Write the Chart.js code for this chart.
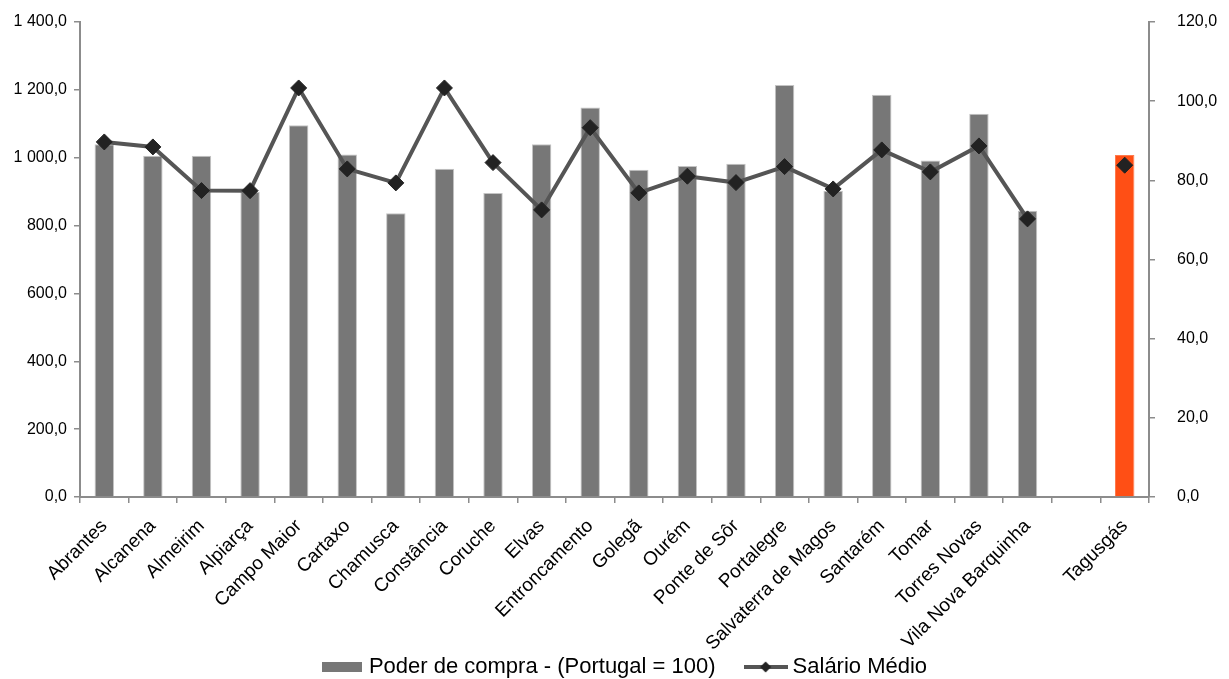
<!DOCTYPE html>
<html lang="pt">
<head>
<meta charset="utf-8">
<title>Poder de compra e Salário Médio</title>
<script src="https://cdn.jsdelivr.net/npm/chart.js@4/dist/chart.umd.min.js"></script>
<style>
  html, body { margin: 0; padding: 0; background: #ffffff; }
  #wrap { width: 1229px; height: 679px; }
</style>
</head>
<body>
<div id="wrap"><canvas id="chart" width="1229" height="679"></canvas></div>
<script>
// Municípios (a posição vazia separa a Tagusgás do resto)
const categories = [
  'Abrantes', 'Alcanena', 'Almeirim', 'Alpiarça', 'Campo Maior', 'Cartaxo',
  'Chamusca', 'Constância', 'Coruche', 'Elvas', 'Entroncamento', 'Golegã',
  'Ourém', 'Ponte de Sôr', 'Portalegre', 'Salvaterra de Magos', 'Santarém',
  'Tomar', 'Torres Novas', 'Vila Nova Barquinha', '', 'Tagusgás'
];

// Poder de compra (Portugal = 100) — eixo da direita
const poderCompra = [
  89.1, 86.2, 86.2, 77.1, 93.9, 86.5, 71.7, 82.9, 76.8, 89.1, 98.4,
  82.7, 83.6, 84.2, 104.1, 77.4, 101.6, 85.0, 96.8, 72.3, null, 86.4
];

// Salário médio — eixo da esquerda
const salarioMedio = [
  1046.5, 1031.8, 903.1, 903.0, 1205.6, 967.0, 925.8, 1205.6, 985.6, 846.2, 1088.6,
  896.3, 945.5, 926.7, 973.8, 908.0, 1023.0, 958.2, 1034.8, 819.7, null, 977.9
];

// Marcas dos eixos
const leftTicks = [0, 200, 400, 600, 800, 1000, 1200, 1400];
const rightTicks = [0, 20, 40, 60, 80, 100, 120];

const seriesNames = ['Poder de compra - (Portugal = 100)', 'Salário Médio'];
const highlighted = 'Tagusgás';

const BAR_GREY = '#777777';
const BAR_ORANGE = '#ff4f15';
const LINE_GREY = '#555555';
const MARKER = '#222222';
const AXIS = '#8c8c8c';
const FONT = '"Liberation Sans", Arial, Helvetica, sans-serif';

// Formato português: espaço como separador de milhares e vírgula decimal
function fmt(v) {
  const [int, dec] = Number(v).toFixed(1).split('.');
  return int.replace(/\B(?=(\d{3})+(?!\d))/g, ' ') + ',' + dec;
}

const barFill = categories.map(c => c === highlighted ? BAR_ORANGE : BAR_GREY);
const barEdge = categories.map(c => c === highlighted ? '#ff7a4d' : '#c4c4c4');

// Símbolos da legenda
function legendBar() {
  const c = document.createElement('canvas');
  c.width = 40; c.height = 10;
  const g = c.getContext('2d');
  g.fillStyle = BAR_GREY;
  g.fillRect(0, 0, 40, 10);
  return c;
}
function legendLine() {
  const c = document.createElement('canvas');
  c.width = 44; c.height = 12;
  const g = c.getContext('2d');
  g.strokeStyle = LINE_GREY;
  g.lineWidth = 4;
  g.beginPath(); g.moveTo(0, 6); g.lineTo(44, 6); g.stroke();
  g.fillStyle = MARKER;
  g.beginPath();
  g.moveTo(22 - 5.5, 6); g.lineTo(22, 0.5); g.lineTo(22 + 5.5, 6); g.lineTo(22, 11.5);
  g.closePath(); g.fill();
  return c;
}
const legendIcons = [legendBar(), legendLine()];

// Depois do layout: desce a legenda e deixa os rótulos inclinados usar todo o espaço inferior
const layoutTweaks = {
  id: 'layoutTweaks',
  afterLayout(chart) {
    const lg = chart.legend;
    if (lg) {
      lg.left += 12; lg.right += 12;
      lg.top += 9; lg.bottom += 9;
    }
    if (chart.scales.x) chart.scales.x.bottom = chart.height;
  }
};

// Eixos com tamanho fixo e sem margem extra para os rótulos
const fixWidth = (w) => (s) => {
  s.width = w;
  s.paddingTop = 0; s.paddingBottom = 0;
};

const ctx = document.getElementById('chart').getContext('2d');
new Chart(ctx, {
  data: {
    labels: categories,
    datasets: [
      {
        type: 'line',
        label: seriesNames[1],
        data: salarioMedio,
        yAxisID: 'yL',
        order: 0,
        borderColor: LINE_GREY,
        borderWidth: 4,
        tension: 0,
        spanGaps: false,
        pointStyle: 'rectRot',
        pointRadius: 8,
        pointHoverRadius: 8,
        pointBackgroundColor: MARKER,
        pointBorderColor: MARKER,
        pointBorderWidth: 1
      },
      {
        type: 'bar',
        label: seriesNames[0],
        data: poderCompra,
        yAxisID: 'yR',
        order: 1,
        backgroundColor: barFill,
        borderColor: barEdge,
        borderWidth: 1,
        categoryPercentage: 1.0,
        barPercentage: 0.4
      }
    ]
  },
  plugins: [layoutTweaks],
  options: {
    responsive: false,
    animation: false,
    events: [],
    layout: { padding: { top: 22, bottom: 0, left: 0, right: 0 } },
    plugins: {
      tooltip: { enabled: false },
      legend: {
        position: 'bottom',
        labels: {
          usePointStyle: true,
          pointStyleWidth: 32,
          boxHeight: 12,
          padding: 34,
          color: '#000',
          font: { family: FONT, size: 22 },
          generateLabels: (chart) => [
            { text: seriesNames[0], pointStyle: legendIcons[0], fillStyle: BAR_GREY, strokeStyle: BAR_GREY, lineWidth: 0, datasetIndex: 1, hidden: false },
            { text: seriesNames[1], pointStyle: legendIcons[1], fillStyle: MARKER, strokeStyle: MARKER, lineWidth: 0, datasetIndex: 0, hidden: false }
          ]
        }
      }
    },
    scales: {
      x: {
        type: 'category',
        offset: true,
        grid: { display: true, drawOnChartArea: false, drawTicks: true, tickLength: 6, color: AXIS, lineWidth: 1.5, offset: true },
        border: { display: true, color: AXIS, width: 2 },
        ticks: {
          autoSkip: false, maxRotation: 45, minRotation: 45, padding: 12,
          color: '#000', font: { family: FONT, size: 19 }
        },
        afterFit: (s) => { s.height = 116; s.paddingLeft = 0; s.paddingRight = 0; }
      },
      yL: {
        type: 'linear',
        position: 'left',
        min: 0, max: 1400,
        afterBuildTicks: (s) => { s.ticks = leftTicks.map(v => ({ value: v })); },
        grid: { display: true, drawOnChartArea: false, drawTicks: true, tickLength: 6, color: AXIS, lineWidth: 1.5 },
        border: { display: true, color: AXIS, width: 2 },
        ticks: { padding: 7, color: '#000', font: { family: FONT, size: 16 }, callback: (v) => fmt(v) },
        afterFit: fixWidth(80)
      },
      yR: {
        type: 'linear',
        position: 'right',
        min: 0, max: 120,
        afterBuildTicks: (s) => { s.ticks = rightTicks.map(v => ({ value: v })); },
        grid: { display: true, drawOnChartArea: false, drawTicks: true, tickLength: 6, color: AXIS, lineWidth: 1.5 },
        border: { display: true, color: AXIS, width: 2 },
        ticks: { padding: 22, color: '#000', font: { family: FONT, size: 16 }, callback: (v) => fmt(v) },
        afterFit: fixWidth(80)
      }
    }
  }
});
</script>
</body>
</html>
